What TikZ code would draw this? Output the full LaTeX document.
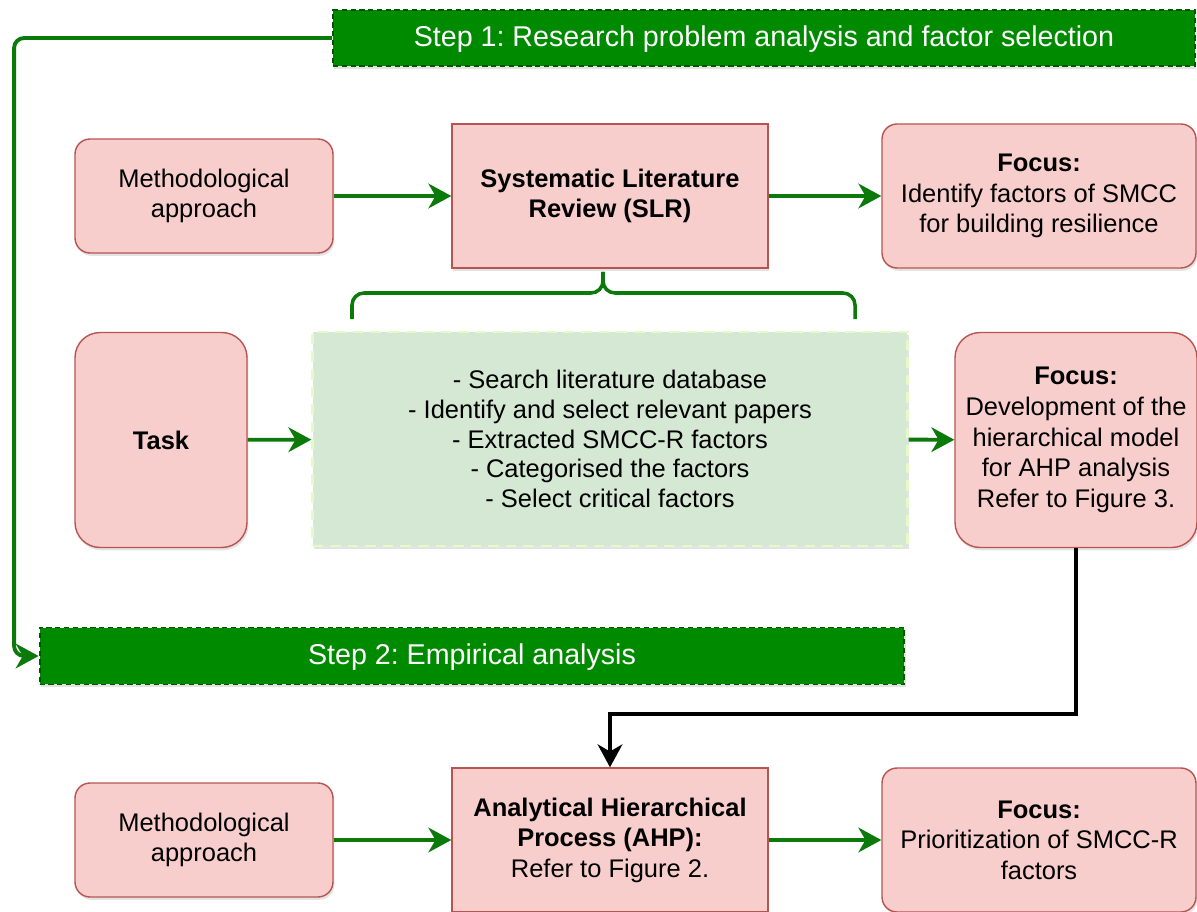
\documentclass[tikz,border=0pt]{standalone}
\usepackage{fontspec}
\setmainfont{Liberation Sans}
\usepackage{tikz}
\usetikzlibrary{arrows.meta, positioning, shadows}
\frenchspacing

\definecolor{boxpink}{HTML}{F8CECC}
\definecolor{boxred}{HTML}{B85450}
\definecolor{taskfill}{HTML}{D5E8D4}
\definecolor{tasklime}{HTML}{E4FBC8}
\definecolor{stepgreen}{HTML}{008A00}
\definecolor{stepdark}{HTML}{005700}
\definecolor{flowgreen}{HTML}{0B7A0B}

\begin{document}
\begin{tikzpicture}[x=0.02cm, y=-0.02cm,
    shade box/.style={drop shadow={opacity=0.22, shadow xshift=0.8pt, shadow yshift=-1.6pt}},
    box/.style={draw=boxred, fill=boxpink, line width=0.8pt, align=center, inner sep=2pt,
      font=\fontsize{14.5}{17.4}\selectfont, shade box},
    roundbox/.style={box, rounded corners=0.3cm},
    bigroundbox/.style={box, rounded corners=0.5cm},
    stepbar/.style={draw=stepdark, fill=stepgreen, line width=1.1pt, dash pattern=on 3pt off 2pt,
      text=white, font=\fontsize{16.3}{19}\selectfont, text depth=2pt, shade box},
    flow/.style={draw=flowgreen, line width=2.2pt, -{Stealth[length=13pt,width=14pt,inset=4pt]}},
  ]
  \useasboundingbox (0,0) rectangle (1197,912);

  % Step bars
  \node[stepbar, minimum width=17.24cm, minimum height=1.12cm] (step1) at (764,38)
    {Step 1: Research problem analysis and factor selection\hspace{0.2cm}};
  \node[stepbar, minimum width=17.3cm, minimum height=1.14cm] (step2) at (472,656)
    {Step 2: Empirical analysis};

  % Step 1 row
  \node[roundbox, minimum width=5.16cm, minimum height=2.28cm] (meth1) at (204,196)
    {Methodological\\approach};
  \node[box, minimum width=6.32cm, minimum height=2.88cm] (slr) at (610,196)
    {\bfseries Systematic Literature\\\bfseries Review (SLR)};
  \node[roundbox, minimum width=6.28cm, minimum height=2.88cm] (focus1) at (1039,196)
    {\bfseries Focus:\\Identify factors of SMCC\\for building resilience};

  % Brace under the SLR
  \draw[flowgreen, line width=2pt, rounded corners=0.24cm] (352,319) |- (603,293) -- (603,272);
  \draw[flowgreen, line width=2pt, rounded corners=0.24cm] (855,319) |- (603,293) -- (603,272);

  % Task row
  \node[bigroundbox, minimum width=3.44cm, minimum height=4.3cm] (task) at (161,440)
    {\bfseries Task};
  \node[draw=tasklime, fill=taskfill, line width=1.4pt, dash pattern=on 6pt off 4pt,
    minimum width=11.9cm, minimum height=4.28cm, align=center,
    font=\fontsize{14.5}{17}\selectfont, shade box] (steps) at (610,439)
    {- Search literature database\\- Identify and select relevant papers\\- Extracted SMCC-R factors\\- Categorised the factors\\- Select critical factors};
  \node[bigroundbox, minimum width=4.84cm, minimum height=4.3cm] (focus2) at (1076,440)
    {\bfseries Focus:\\Development of the\\hierarchical model\\for AHP analysis\\Refer to Figure 3.};

  % Step 2 row
  \node[roundbox, minimum width=5.16cm, minimum height=2.28cm] (meth2) at (204,840)
    {Methodological\\approach};
  \node[box, minimum width=6.32cm, minimum height=2.88cm] (ahp) at (610,840)
    {\bfseries Analytical Hierarchical\\\bfseries Process (AHP):\\Refer to Figure 2.};
  \node[roundbox, minimum width=6.28cm, minimum height=2.88cm] (focus3) at (1039,840)
    {\bfseries Focus:\\Prioritization of SMCC-R\\factors};

  % Connectors
  \draw[flow] (meth1) -- (slr);
  \draw[flow] (slr) -- (focus1);
  \draw[flow] (task) -- (steps);
  \draw[flow] (steps) -- (focus2);
  \draw[flow] (meth2) -- (ahp);
  \draw[flow] (ahp) -- (focus3);
  \draw[flow, rounded corners=0.2cm] (step1.west) -- ++(-318,0) |- (step2.west);
  \draw[line width=2.2pt, -{Stealth[length=13pt,width=14pt,inset=4pt]}] (focus2.south) -- ++(0,166) -| (ahp.north);
\end{tikzpicture}
\end{document}
